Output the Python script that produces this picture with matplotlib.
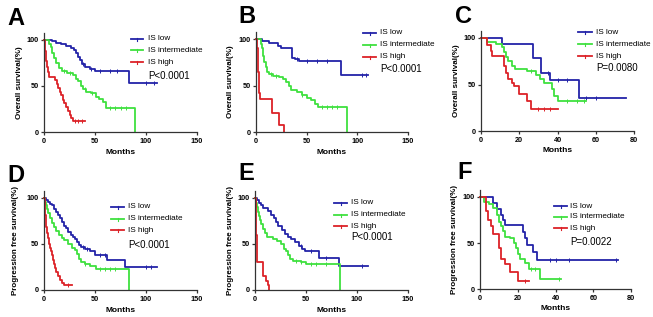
import numpy as np
import matplotlib
matplotlib.use("Agg")
import matplotlib.pyplot as plt
from matplotlib.lines import Line2D

plt.rcParams['font.family'] = ['Liberation Sans', 'DejaVu Sans']

W, H = 653, 317
BLUE = '#2323a8'
GREEN = '#3fe03f'
RED = '#dc2228'
SPINE = '#333333'

labels = ['IS low', 'IS intermediate', 'IS high']

# ---- A: overall survival, cohort 1
a_low_t = [0, 8, 12, 17, 22, 26, 29, 31, 33, 35, 37, 40, 45, 50, 83, 111]
a_low_s = [100, 99, 97, 96, 94, 91, 89, 86, 82, 78, 74, 71, 69, 66, 53, 53]
a_mid_t = [0, 5, 6.5, 8, 10, 12, 15, 18, 23, 28, 31, 33, 36, 38, 41, 46, 51, 54, 58, 60.5, 89]
a_mid_s = [100, 96, 92, 86, 80, 75, 70, 66, 64, 62, 58, 55, 50, 47, 44, 42, 38, 36, 33, 26, 0]
a_high_t = [0, 0.5, 1, 1.5, 2, 3, 4, 5, 11, 12.5, 14, 15.5, 17, 18.5, 20, 22, 23.5, 25, 26.5, 28, 40]
a_high_s = [100, 94, 88, 82, 77, 71, 65, 60, 56, 52, 48, 44, 40, 35, 31, 27, 23, 19, 15, 12, 12]
a_cens = [[38, 46, 55, 65, 72, 100, 108], [20, 25, 40, 47, 65, 70, 75, 80], [30, 33, 37]]

# ---- B: overall survival, cohort 2
b_low_t = [0, 6, 12.5, 22, 25, 36, 38, 42, 84, 111]
b_low_s = [100, 98, 96, 93, 90, 80, 78, 76, 61, 61]
b_mid_t = [0, 5, 6, 7, 8, 9.5, 11, 13, 17, 23, 27, 30, 33, 35, 40, 45, 50, 54, 58, 61, 90]
b_mid_s = [100, 95, 90, 82, 75, 70, 65, 62, 60, 59, 57, 54, 50, 45, 43, 40, 37, 34, 30, 27, 0]
b_high_t = [0, 1, 1.5, 2, 2.5, 3, 4, 16, 23, 28]
b_high_s = [100, 90, 80, 65, 50, 42, 35, 20, 7, 0]
b_cens = [[40, 50, 60, 70, 105, 109], [15, 20, 45, 65, 70, 75, 80], []]

# ---- C: overall survival, cohort 3
c_low_t = [0, 11, 27, 31.5, 36, 51, 76]
c_low_s = [100, 94, 78, 62, 55, 36, 36]
c_mid_t = [0, 3, 8, 11, 12, 13, 14, 16, 18, 24, 29, 31, 33, 37, 38, 40, 55]
c_mid_s = [100, 96, 94, 90, 85, 80, 75, 70, 67, 64, 60, 56, 52, 45, 38, 32, 32]
c_high_t = [0, 3, 5, 6, 12, 13, 14, 16, 17, 20, 24, 26, 40]
c_high_s = [100, 92, 86, 81, 70, 62, 56, 52, 48, 40, 32, 24, 24]
c_cens = [[35, 40, 45, 55, 60], [26, 45, 50, 54], [30, 33, 36]]

# ---- D: progression free survival, cohort 1
d_low_t = [0, 2, 4, 6, 8, 10, 12, 14, 16, 18, 20, 22, 24, 26, 28, 30, 32, 34, 36, 40, 45, 50, 62, 79, 111]
d_low_s = [100, 98, 96, 94, 92, 88, 85, 82, 78, 74, 70, 67, 63, 60, 58, 55, 52, 49, 47, 45, 42, 38, 33, 25, 25]
d_mid_t = [0, 1, 2, 3, 4, 6, 8, 10, 12, 15, 18, 20, 24, 27, 30, 32, 34, 36, 40, 45, 51, 83]
d_mid_s = [100, 96, 92, 88, 84, 78, 73, 68, 64, 60, 57, 54, 50, 46, 43, 39, 34, 30, 28, 26, 23, 0]
d_high_t = [0, 0.5, 1, 1.5, 2, 3, 4, 5, 6, 7, 8, 9, 10, 11, 12, 14, 16, 18, 20, 27]
d_high_s = [100, 90, 82, 75, 68, 62, 56, 50, 46, 42, 38, 33, 28, 24, 20, 15, 11, 8, 5, 5]
d_cens = [[38, 42, 55, 60, 100, 105], [40, 55, 60, 65, 70], [24]]

# ---- E: progression free survival, cohort 2
e_low_t = [0, 2, 4, 6, 8, 13, 16, 19, 21, 23, 26, 29, 32, 35, 39, 43, 46, 49, 63, 82, 111]
e_low_s = [100, 98, 95, 92, 89, 86, 82, 78, 74, 70, 65, 61, 58, 55, 52, 48, 45, 42, 35, 26, 26]
e_mid_t = [0, 1, 2, 3, 4, 5, 6, 8, 10, 12, 18, 22, 25, 28, 30, 32, 34, 37, 45, 50, 83.5]
e_mid_s = [100, 95, 90, 85, 80, 76, 72, 66, 62, 58, 55, 53, 50, 45, 42, 38, 34, 31, 30, 28, 0]
e_high_t = [0, 0.5, 1, 1.5, 2, 8, 11, 13, 14]
e_high_s = [100, 80, 60, 45, 30, 15, 10, 5, 0]
e_cens = [[45, 55, 70, 105], [40, 45, 55, 60, 70], []]

# ---- F: progression free survival, cohort 3
f_low_t = [0, 7, 9, 11, 12, 13, 23, 24, 25, 28, 30, 73]
f_low_s = [100, 93, 87, 80, 75, 70, 62, 55, 48, 40, 32, 32]
f_mid_t = [0, 2, 5, 7, 9, 10, 11, 12, 13, 16, 18, 19, 20, 21, 24, 26, 32, 43]
f_mid_s = [100, 95, 92, 88, 80, 73, 68, 63, 57, 55, 50, 45, 38, 33, 28, 22, 11, 11]
f_high_t = [0, 3, 4, 6, 7, 10, 11, 13, 16, 20, 26]
f_high_s = [100, 85, 75, 68, 60, 45, 33, 27, 18, 9, 9]
f_cens = [[37, 40, 47, 72], [27, 29, 42], [24]]

p_values = ['P<0.0001', 'P<0.0001', 'P=0.0080', 'P<0.0001', 'P<0.0001', 'P=0.0022']
os_label = 'Overall survival(%)'
pfs_label = 'Progression free survival(%)'

fig = plt.figure(figsize=(W / 100, H / 100), dpi=100)


def fx(x):
    return x / W


def fy(y):
    return 1 - y / H


def panel(box, xmax, xticks, curves, cens, letter, ylabel, pval, leg):
    # box: pixel coords (left, right, y of 0%, y of 100%)
    x0, x1, y0, y100 = box
    ytop = y0 - (y0 - y100) * 1.08
    ax = fig.add_axes([fx(x0), fy(y0), (x1 - x0) / W, (y0 - ytop) / H])
    ax.set_xlim(0, xmax)
    ax.set_ylim(0, 108)
    for sp in ['top', 'right']:
        ax.spines[sp].set_visible(False)
    for sp in ['left', 'bottom']:
        ax.spines[sp].set_color(SPINE)
        ax.spines[sp].set_linewidth(0.9)
    ax.set_xticks(xticks)
    ax.set_yticks([0, 50, 100])
    ax.tick_params(direction='out', length=2.5, width=0.9, color=SPINE,
                   labelsize=5.2, pad=1.5)
    for lab in ax.get_xticklabels() + ax.get_yticklabels():
        lab.set_fontweight('bold')
    ax.patch.set_alpha(0)

    for (t, s), c, ct in zip(curves, [BLUE, GREEN, RED], cens):
        ax.step(t, s, where='post', color=c, lw=1.3, clip_on=False)
        if ct:
            idx = np.searchsorted(t, ct, side='right') - 1
            ax.plot(ct, np.array(s)[idx], ls='none', marker='|', ms=2.5,
                    mew=0.7, color=c, clip_on=False)

    # letter + axis labels
    lx, ly = letter[1]
    fig.text(fx(lx), fy(ly), letter[0], fontsize=17, fontweight='bold',
             ha='left', va='baseline')
    fig.text(fx(ylabel[1]), fy((y0 + ytop) / 2), ylabel[0], rotation=90,
             fontsize=5.8, fontweight='bold', ha='center', va='center')
    fig.text(fx((x0 + x1) / 2), fy(y0 + 20), 'Months', fontsize=6,
             fontweight='bold', ha='center', va='center')

    # legend
    lx0, lx1, tx, rows, py = leg
    for c, lab, ry in zip([BLUE, GREEN, RED], labels, rows):
        fig.add_artist(Line2D([fx(lx0), fx(lx1)], [fy(ry), fy(ry)],
                              color=c, lw=1.3))
        fig.add_artist(Line2D([fx((lx0 + lx1) / 2)] * 2,
                              [fy(ry - 1.5), fy(ry + 1.5)], color=c, lw=0.8))
        fig.text(fx(tx), fy(ry), lab, fontsize=5.9, ha='left', va='center')
    fig.text(fx(tx), fy(py), pval, fontsize=7, ha='left', va='center')
    return ax


panel((44, 197, 132, 40), 150, [0, 50, 100, 150],
      [(a_low_t, a_low_s), (a_mid_t, a_mid_s), (a_high_t, a_high_s)], a_cens,
      ('A', (7, 25)), (os_label, 20), p_values[0],
      (131, 143, 148, (39, 50, 62), 76))
panel((256, 408, 132, 39), 150, [0, 50, 100, 150],
      [(b_low_t, b_low_s), (b_mid_t, b_mid_s), (b_high_t, b_high_s)], b_cens,
      ('B', (238, 23)), (os_label, 231), p_values[1],
      (363, 376, 380, (33, 45, 57), 69))
panel((481, 634, 131, 38), 80, [0, 20, 40, 60, 80],
      [(c_low_t, c_low_s), (c_mid_t, c_mid_s), (c_high_t, c_high_s)], c_cens,
      ('C', (455, 23)), (os_label, 456), p_values[2],
      (578, 592, 596, (32, 44, 56), 68))
panel((44, 197, 290, 198), 150, [0, 50, 100, 150],
      [(d_low_t, d_low_s), (d_mid_t, d_mid_s), (d_high_t, d_high_s)], d_cens,
      ('D', (7, 182)), (pfs_label, 16), p_values[3],
      (111, 124, 128, (207, 219, 230), 245))
panel((255, 408, 290, 198), 150, [0, 50, 100, 150],
      [(e_low_t, e_low_s), (e_mid_t, e_mid_s), (e_high_t, e_high_s)], e_cens,
      ('E', (238, 180)), (pfs_label, 231), p_values[4],
      (334, 347, 351, (203, 215, 226), 237))
panel((480, 631, 289, 197), 80, [0, 20, 40, 60, 80],
      [(f_low_t, f_low_s), (f_mid_t, f_mid_s), (f_high_t, f_high_s)], f_cens,
      ('F', (457, 179)), (pfs_label, 455), p_values[5],
      (554, 567, 570, (206, 217, 228), 242))

fig.savefig('out.png', dpi=100)
